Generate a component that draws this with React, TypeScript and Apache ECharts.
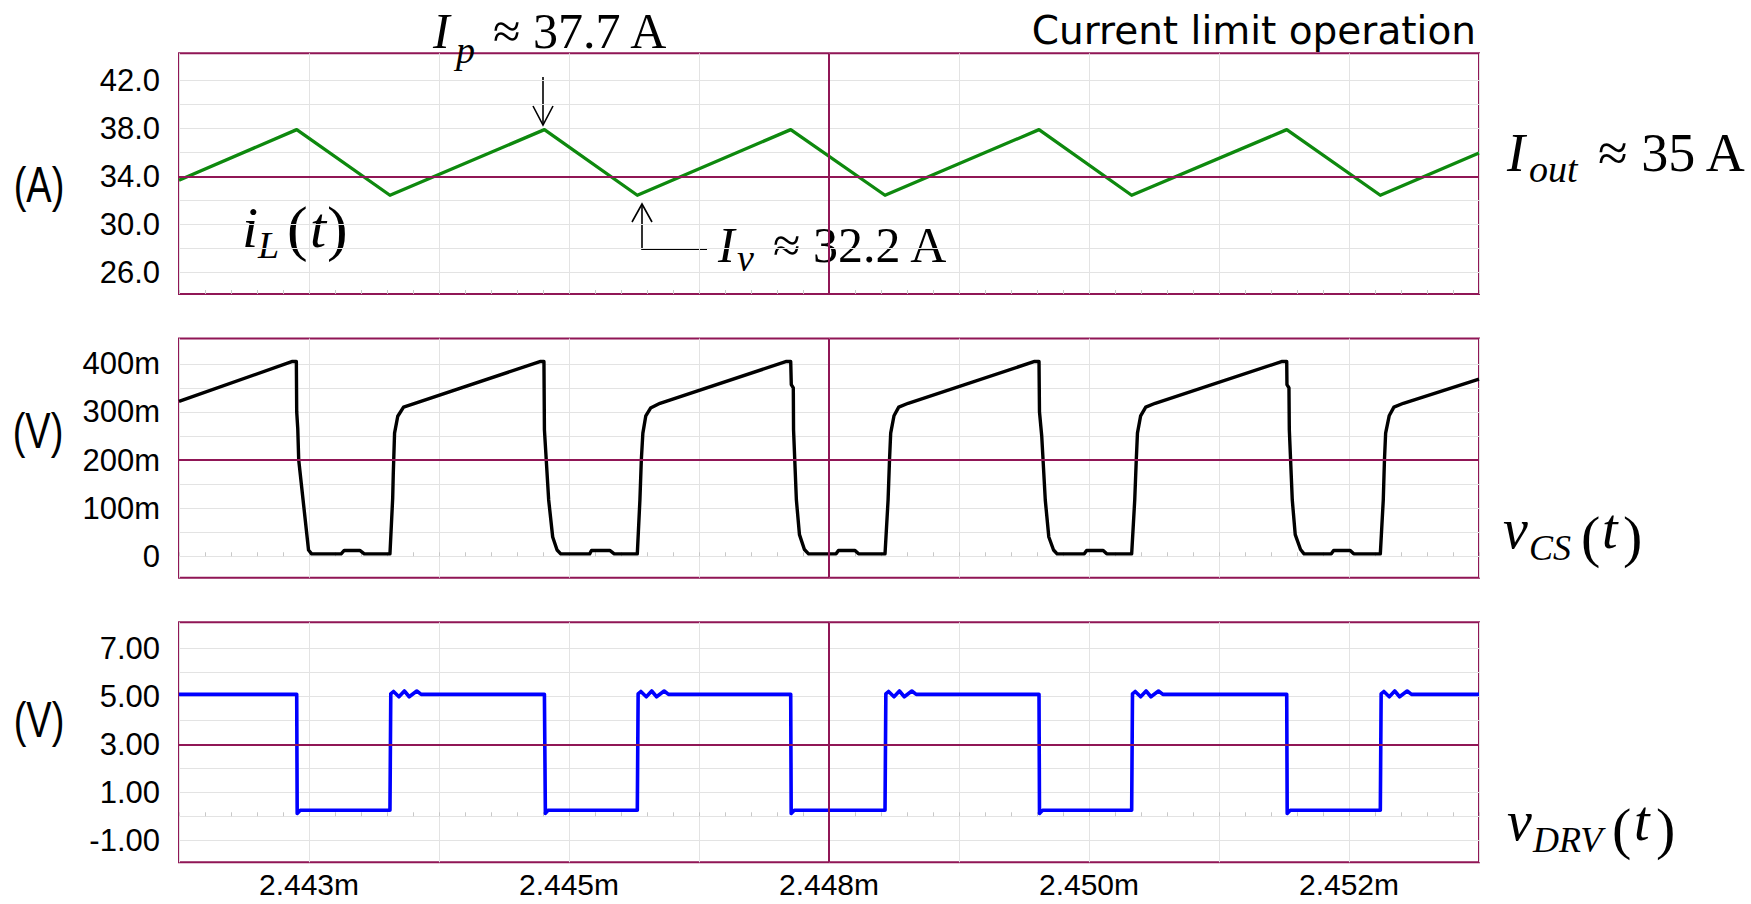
import React, { useEffect, useRef } from "react";
import * as echarts from "echarts";

// ---------- data (time in µs from the left edge of the window, 2.4421 ms) ----------
const xDivision = 1.1; // µs per grid division
const xSpan = 11;
const xLabelTimes = [1.1, 3.3, 5.5, 7.7, 9.9];
const xLabels = ["2.443m", "2.445m", "2.448m", "2.450m", "2.452m"];
const cursorTime = 5.5;

const iLGridValues = [26, 28, 30, 32, 34, 36, 38, 40, 42];
const iLLabelValues = [26, 30, 34, 38, 42];
const vcsGridValues = [0, 50, 100, 150, 200, 250, 300, 350, 400];
const vcsLabelValues = [0, 100, 200, 300, 400];
const vdrvGridValues = [-1, 0, 1, 2, 3, 4, 5, 6, 7];
const vdrvLabelValues = [-1, 1, 3, 5, 7];

const iLRange = [24.19, 44.25];
const vcsRange = [-44.6, 452.7];
const vdrvRange = [-1.917, 8.083];
const iLRefLine = 34;
const vcsRefLine = 200;
const vdrvRefLine = 3;

// inductor current (A)
const iLPoints: [number, number][] = [
  [0, 33.67], [0.996, 37.89], [1.785, 32.42], [3.092, 37.89], [3.878, 32.42],
  [5.176, 37.89], [5.974, 32.42], [7.277, 37.89], [8.061, 32.42], [9.373, 37.89],
  [10.165, 32.42], [11, 35.94],
];

// current-sense voltage (mV)
const vcsPoints: [number, number][] = [
  [0, 322], [0.96, 405], [0.993, 405],
  [0.996, 300], [1.005, 265], [1.013, 200], [1.096, 13], [1.122, 5],
  [1.372, 5], [1.398, 12], [1.53, 12], [1.568, 5], [1.785, 5],
  [1.808, 120], [1.813, 170], [1.824, 256], [1.851, 291], [1.9, 310], [1.983, 317],
  [3.06, 405], [3.088, 405],
  [3.092, 263], [3.128, 117], [3.162, 40], [3.199, 13], [3.23, 5],
  [3.475, 5], [3.49, 12], [3.645, 12], [3.683, 5], [3.878, 5],
  [3.9, 117], [3.912, 200], [3.925, 256], [3.95, 292], [3.99, 308], [4.07, 318],
  [5.14, 405], [5.176, 405],
  [5.181, 357], [5.198, 350], [5.2, 263], [5.224, 117], [5.25, 45], [5.292, 14], [5.327, 5],
  [5.56, 5], [5.58, 12], [5.72, 12], [5.75, 5], [5.974, 5],
  [6.0, 117], [6.012, 200], [6.022, 256], [6.05, 292], [6.09, 310], [6.17, 318],
  [7.24, 405], [7.277, 405],
  [7.281, 300], [7.3, 250], [7.33, 117], [7.36, 40], [7.4, 13], [7.43, 5],
  [7.66, 5], [7.68, 12], [7.82, 12], [7.85, 5], [8.061, 5],
  [8.087, 117], [8.1, 200], [8.11, 256], [8.137, 292], [8.18, 310], [8.26, 318],
  [9.335, 405], [9.373, 405],
  [9.375, 357], [9.392, 350], [9.395, 263], [9.42, 117], [9.445, 45], [9.49, 14], [9.52, 5],
  [9.75, 5], [9.77, 12], [9.91, 12], [9.94, 5], [10.165, 5],
  [10.19, 117], [10.2, 200], [10.21, 256], [10.24, 292], [10.28, 310], [10.36, 318],
  [11, 368],
];

// driver voltage (V)
const vdrvPoints: [number, number][] = [
  [0, 5.08], [0.996, 5.08], [1.0, 0.12], [1.026, 0.25],
  [1.785, 0.25], [1.792, 5.1], [1.815, 5.2], [1.861, 4.98], [1.907, 5.22], [1.948, 4.98], [2.012, 5.22], [2.049, 5.08],
  [3.092, 5.08], [3.1, 0.12], [3.122, 0.25],
  [3.878, 0.25], [3.885, 5.1], [3.908, 5.2], [3.954, 4.98], [4.0, 5.22], [4.041, 4.98], [4.105, 5.22], [4.142, 5.08],
  [5.176, 5.08], [5.18, 0.12], [5.206, 0.25],
  [5.974, 0.25], [5.981, 5.1], [6.004, 5.2], [6.05, 4.98], [6.096, 5.22], [6.137, 4.98], [6.201, 5.22], [6.238, 5.08],
  [7.277, 5.08], [7.281, 0.12], [7.307, 0.25],
  [8.061, 0.25], [8.068, 5.1], [8.091, 5.2], [8.137, 4.98], [8.183, 5.22], [8.224, 4.98], [8.288, 5.22], [8.325, 5.08],
  [9.373, 5.08], [9.377, 0.12], [9.403, 0.25],
  [10.165, 0.25], [10.172, 5.1], [10.195, 5.2], [10.241, 4.98], [10.287, 5.22], [10.328, 4.98], [10.392, 5.22], [10.429, 5.08],
  [11, 5.08],
];

// ---------- styling ----------
const MAG = "#901656";
const GRIDC = "#e3e3e3";
const TICKC = "#c8c8c8";
const SANS = '"Liberation Sans", Arial, sans-serif';
const SERIF = '"Liberation Serif", "Times New Roman", serif';

const grids = [
  { left: 179, top: 53.3, width: 1300, height: 240.7 },
  { left: 179, top: 338.5, width: 1300, height: 239.2 },
  { left: 179, top: 622.3, width: 1300, height: 240 },
];

function makeX(i: number) {
  return {
    type: "value",
    gridIndex: i,
    min: 0,
    max: xSpan,
    interval: xDivision,
    axisLine: { show: false },
    axisTick: { show: true, inside: true, length: 4, lineStyle: { color: TICKC } },
    minorTick: { show: true, splitNumber: 5, length: 4, lineStyle: { color: TICKC } },
    splitLine: { show: true, lineStyle: { color: GRIDC, width: 1 } },
    axisLabel:
      i === 2
        ? {
            show: true,
            interval: 0,
            customValues: xLabelTimes,
            formatter: (v: number) => {
              const k = xLabelTimes.findIndex((t) => Math.abs(t - v) < 1e-6);
              return k >= 0 ? xLabels[k] : "";
            },
            fontSize: 30,
            lineHeight: 26,
            fontFamily: SANS,
            color: "#000",
            margin: 9,
          }
        : { show: false },
  };
}

function makeY(i: number, range: number[], gridVals: number[], labelVals: number[], fmt: (v: number) => string) {
  return {
    type: "value",
    gridIndex: i,
    min: range[0],
    max: range[1],
    axisLine: { show: false },
    axisTick: { show: false, customValues: gridVals },
    axisLabel: {
      customValues: labelVals,
      formatter: fmt,
      fontSize: 31,
      fontFamily: SANS,
      color: "#000",
      margin: 19,
    },
    splitLine: { show: true, lineStyle: { color: GRIDC, width: 1 } },
  };
}

function refLines(yVal: number) {
  return {
    silent: true,
    symbol: ["none", "none"],
    label: { show: false },
    lineStyle: { color: MAG, width: 2, type: "solid" },
    emphasis: { disabled: true },
    data: [{ xAxis: cursorTime }, { yAxis: yVal }],
  };
}

function line(i: number, data: [number, number][], color: string, width: number, refY: number) {
  return {
    type: "line",
    xAxisIndex: i,
    yAxisIndex: i,
    data,
    showSymbol: false,
    symbol: "none",
    clip: true,
    lineStyle: { color, width, join: "round" },
    itemStyle: { color },
    emphasis: { disabled: true },
    markLine: refLines(refY),
    z: 3,
  };
}

function T(text: string, x: number, y: number, size: number, family: string, italic = false, align = "left", extra: any = {}) {
  return {
    type: "text",
    x,
    y,
    silent: true,
    ...extra,
    style: {
      text,
      font: `${italic ? "italic " : ""}${size}px ${family}`,
      fill: "#000",
      textAlign: align,
      textVerticalAlign: "middle",
    },
  };
}

const arrowStyle = { stroke: "#000", lineWidth: 1.6, fill: "none" };

const graphics = [
  T("Current limit operation", 1476, 30.7, 39, '"DejaVu Sans", sans-serif', false, "right"),
  // unit labels
  T("(A)", 39, 185, 38, SANS, false, "center", { scaleY: 1.3 }),
  T("(V)", 38, 431, 38, SANS, false, "center", { scaleY: 1.3 }),
  T("(V)", 39, 720, 38, SANS, false, "center", { scaleY: 1.3 }),
  // Ip annotation
  T("I", 433, 31.3, 50, SERIF, true),
  T("p", 456, 50, 38, SERIF, true),
  T("≈ 37.7 A", 493, 31.3, 50, SERIF),
  { type: "line", silent: true, shape: { x1: 543, y1: 77, x2: 543, y2: 124 }, style: arrowStyle },
  { type: "polyline", silent: true, shape: { points: [[533, 106], [543, 125], [553, 106]] }, style: arrowStyle },
  // Iv annotation
  T("I", 718, 244.7, 50, SERIF, true),
  T("v", 737, 258, 38, SERIF, true),
  T("≈ 32.2 A", 773, 244.7, 50, SERIF),
  { type: "polyline", silent: true, shape: { points: [[707, 249.3], [642, 249.3], [642, 205]] }, style: arrowStyle },
  { type: "polyline", silent: true, shape: { points: [[632, 222], [642, 204], [652, 222]] }, style: arrowStyle },
  // Iout annotation
  T("I", 1507, 152.6, 54, SERIF, true),
  T("out", 1529, 169, 38, SERIF, true),
  T("≈ 35 A", 1598, 152.6, 54, SERIF),
  // iL(t)
  T("i", 242, 227, 58, SERIF, true),
  T("L", 258, 245, 38, SERIF, true),
  T("(", 287, 228, 62, SERIF),
  T("t", 310, 227, 58, SERIF, true),
  T(")", 327, 228, 62, SERIF),
  // vCS(t)
  T("v", 1503, 529, 56, SERIF, true),
  T("CS", 1529, 548, 36, SERIF, true),
  T("(", 1581, 536, 58, SERIF),
  T("t", 1602, 529, 56, SERIF, true),
  T(")", 1623, 536, 58, SERIF),
  // vDRV(t)
  T("v", 1507, 821, 56, SERIF, true),
  T("DRV", 1533, 840, 36, SERIF, true),
  T("(", 1612, 828, 58, SERIF),
  T("t", 1634, 821, 56, SERIF, true),
  T(")", 1656, 828, 58, SERIF),
];

const option: any = {
  animation: false,
  backgroundColor: "#ffffff",
  grid: grids.map((g) => ({ ...g, show: true, borderColor: MAG, borderWidth: 2, backgroundColor: "transparent" })),
  xAxis: [makeX(0), makeX(1), makeX(2)],
  yAxis: [
    makeY(0, iLRange, iLGridValues, iLLabelValues, (v) => v.toFixed(1)),
    makeY(1, vcsRange, vcsGridValues, vcsLabelValues, (v) => (v === 0 ? "0" : `${v}m`)),
    makeY(2, vdrvRange, vdrvGridValues, vdrvLabelValues, (v) => v.toFixed(2)),
  ],
  series: [
    line(0, iLPoints, "#0e890e", 3.3, iLRefLine),
    line(1, vcsPoints, "#000000", 3.4, vcsRefLine),
    line(2, vdrvPoints, "#0000ff", 3.6, vdrvRefLine),
  ],
  graphic: graphics,
};

export default function App() {
  const ref = useRef<HTMLDivElement>(null);
  useEffect(() => {
    if (!ref.current) return;
    const chart = echarts.init(ref.current, null, { renderer: "svg" });
    chart.setOption(option);
    return () => chart.dispose();
  }, []);
  return (
    <div
      ref={ref}
      style={{ position: "fixed", left: 0, top: 0, width: 1751, height: 904, background: "#fff" }}
    />
  );
}
